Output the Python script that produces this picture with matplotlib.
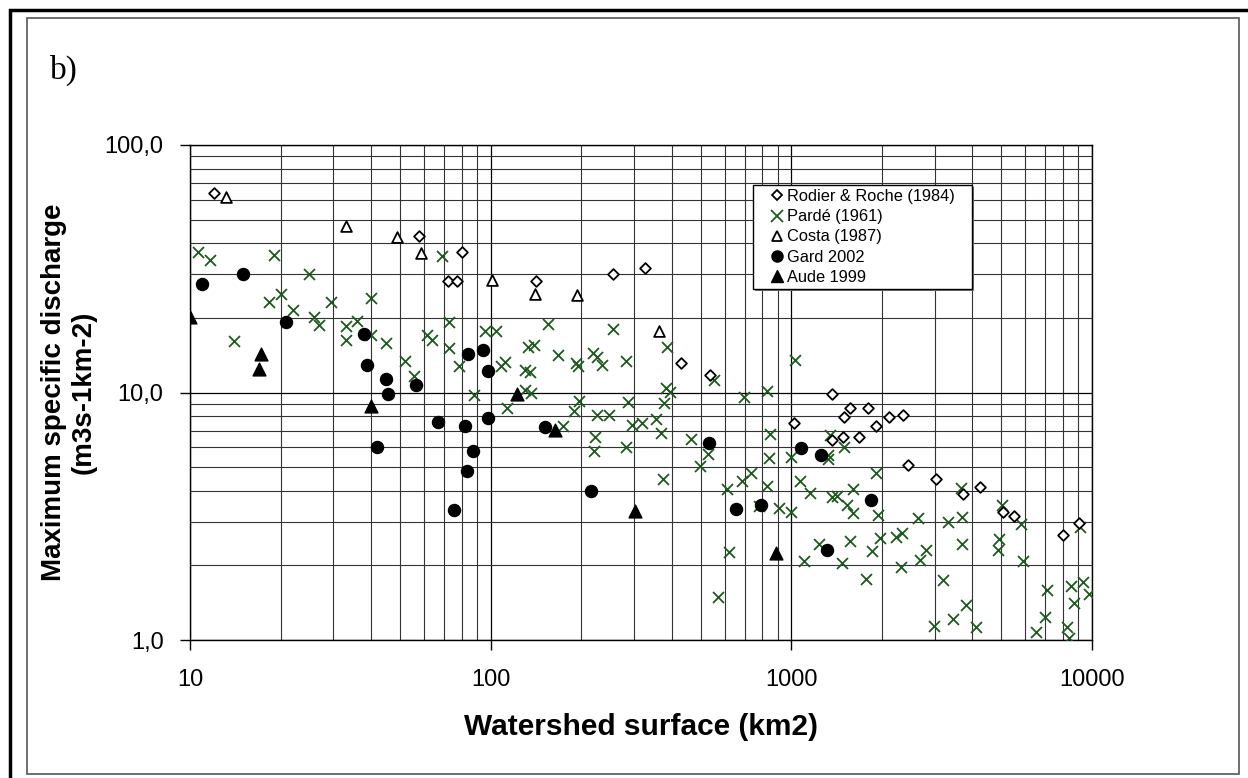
import matplotlib
matplotlib.use("Agg")
import matplotlib.pyplot as plt
from matplotlib.patches import Rectangle
from matplotlib.lines import Line2D
from matplotlib.ticker import FixedLocator, FuncFormatter, NullFormatter

plt.rcParams['font.family'] = ['Liberation Sans', 'DejaVu Sans']

# Rodier & Roche (1984)
rodier_x = [12.0, 57.8, 80.4, 72.2, 77.3, 142, 255, 325, 428, 538,
            1020, 1368, 1567, 1803, 1500, 1906, 2111, 2355, 1361, 1488,
            1682, 2449, 3020, 3730, 4236, 5068, 5495, 8017, 9066]
rodier_y = [64.0, 42.8, 37.0, 28.2, 28.2, 28.2, 30.2, 31.7, 13.2, 11.8,
            7.55, 9.86, 8.68, 8.68, 7.94, 7.35, 7.94, 8.11, 6.43, 6.59,
            6.63, 5.09, 4.47, 3.88, 4.14, 3.30, 3.17, 2.66, 2.98]

# Pardé (1961)
parde_x = [10.65, 11.65, 19.0, 24.9, 14.0, 18.3, 20.0, 22.0, 29.4, 25.8,
           26.8, 32.9, 32.9, 35.9, 40.0, 40.0, 44.8, 51.7, 55.6, 61.5,
           63.9, 68.7, 72.6, 72.6, 78.3, 96, 104, 108, 112, 87.8,
           155.6, 255.5, 385.5, 133.6, 139.8, 167, 129.6, 135.3, 191.6, 195.6,
           219.3, 225, 233.7, 282.7, 381.7, 393.6, 554.5, 1030, 129.6, 136,
           113, 196.6, 189.7, 225, 247.2, 174.5, 286.4, 377, 355.5, 295.8,
           318.7, 697, 833, 850, 222.2, 220.5, 281.3, 369, 374, 464,
           530, 497, 611, 683, 737, 843, 833, 781, 910, 1000,
           1000, 1070, 619, 569, 1100, 1343, 1327, 1327, 1500, 1911,
           1153, 3655, 1599, 1361, 1414, 1528, 1606, 1946, 2642, 3311,
           3684, 5003, 5787, 9120, 1237, 1573, 1970, 2228, 2328, 1849,
           2804, 2678, 3703, 4915, 4876, 5904, 1469, 2310, 1778, 3201,
           3808, 3439, 2987, 4102, 7063, 6972, 6508, 8511, 9348, 9788,
           8710, 8271, 8397]
parde_y = [36.9, 34.4, 36.1, 30.2, 16.2, 23.3, 25.1, 21.5, 23.2, 20.2,
           18.7, 18.5, 16.3, 19.5, 24.2, 17.0, 15.9, 13.4, 11.7, 17.1,
           16.3, 35.5, 19.3, 15.1, 12.75, 17.7, 17.7, 12.8, 13.3, 9.8,
           19.0, 18.1, 15.3, 15.3, 15.6, 14.2, 12.35, 12.05, 13.1, 12.8,
           14.5, 13.9, 12.9, 13.4, 10.4, 10.07, 11.2, 13.5, 10.2, 9.93,
           8.66, 9.27, 8.45, 8.14, 8.14, 7.35, 9.13, 9.05, 7.82, 7.42,
           7.54, 9.62, 10.1, 6.8, 6.6, 5.78, 6.02, 6.87, 4.49, 6.46,
           5.65, 5.03, 4.06, 4.38, 4.73, 5.43, 4.18, 3.48, 3.4, 3.3,
           5.5, 4.4, 2.26, 1.49, 2.09, 6.73, 5.59, 5.37, 6.0, 4.75,
           3.92, 4.10, 4.06, 3.79, 3.81, 3.51, 3.25, 3.2, 3.10, 3.01,
           3.13, 3.51, 2.93, 2.87, 2.44, 2.52, 2.59, 2.60, 2.71, 2.28,
           2.30, 2.10, 2.44, 2.55, 2.30, 2.08, 2.04, 1.97, 1.76, 1.75,
           1.39, 1.22, 1.14, 1.13, 1.59, 1.24, 1.08, 1.65, 1.72, 1.53,
           1.41, 1.13, 1.02]

# Costa (1987)
costa_x = [13.2, 32.9, 48.7, 58.7, 101, 140, 193, 363]
costa_y = [61.4, 46.9, 42.5, 36.6, 28.6, 24.9, 24.7, 17.7]

# Gard 2002
gard_x = [11.0, 15.0, 20.9, 37.8, 38.8, 44.8, 45.7, 56.6, 66.6, 82.4,
          84.1, 94.1, 97.9, 97.9, 41.8, 87.2, 83.3, 75.4, 152, 534,
          216, 654, 791, 1080, 1252, 1847, 1310]
gard_y = [27.5, 30.2, 19.3, 17.3, 12.9, 11.3, 9.9, 10.7, 7.59, 7.31,
          14.3, 14.9, 12.2, 7.87, 6.04, 5.78, 4.84, 3.34, 7.25, 6.26,
          4.01, 3.37, 3.52, 5.98, 5.59, 3.68, 2.30]

# Aude 1999
aude_x = [10.0, 17.2, 17.0, 40.0, 122, 164, 301, 887]
aude_y = [20.1, 14.3, 12.5, 8.8, 9.86, 7.07, 3.31, 2.24]

labels = ['Rodier & Roche (1984)', 'Pardé (1961)', 'Costa (1987)', 'Gard 2002', 'Aude 1999']
green = '#1d5a1d'

W, H = 1248, 778
fig = plt.figure(figsize=(W / 100, H / 100), dpi=100)
ax = fig.add_axes([190 / W, 1 - 640 / H, (1092 - 190) / W, (640 - 145) / H])

ax.set_xscale('log')
ax.set_yscale('log')
ax.set_xlim(10, 10000)
ax.set_ylim(1, 100)

ax.grid(True, which='major', color='black', lw=0.9)
ax.grid(True, which='minor', color='#333333', lw=0.8)

ax.scatter(parde_x, parde_y, marker='x', s=62, c=green, linewidths=1.3, zorder=3)
ax.scatter(rodier_x, rodier_y, marker='D', s=30, facecolors='white', edgecolors='black', linewidths=1.3, zorder=4)
ax.scatter(costa_x, costa_y, marker='^', s=60, facecolors='white', edgecolors='black', linewidths=1.3, zorder=4)
ax.scatter(gard_x, gard_y, marker='o', s=75, c='black', zorder=4)
ax.scatter(aude_x, aude_y, marker='^', s=85, c='black', zorder=4)

ax.xaxis.set_major_locator(FixedLocator([10, 100, 1000, 10000]))
ax.yaxis.set_major_locator(FixedLocator([1, 10, 100]))
ax.xaxis.set_major_formatter(FuncFormatter(lambda v, p: '%d' % round(v)))
ax.yaxis.set_major_formatter(FuncFormatter(lambda v, p: ('%.1f' % v).replace('.', ',')))
ax.xaxis.set_minor_formatter(NullFormatter())
ax.yaxis.set_minor_formatter(NullFormatter())
ax.tick_params(which='minor', length=0)
ax.tick_params(which='major', length=7, width=1, direction='out', labelsize=17, pad=12)
ax.tick_params(axis='x', pad=14)
for sp in ax.spines.values():
    sp.set_linewidth(1.0)

ax.set_xlabel('Watershed surface (km2)', fontsize=21.5, fontweight='bold', labelpad=16)
ax.set_ylabel('Maximum specific discharge\n(m3s-1km-2)', fontsize=20, fontweight='bold',
              labelpad=6, linespacing=1.15)

# legend box drawn by hand so its padding matches
fig.add_artist(Rectangle((755 / W, 1 - 291 / H), (974 - 755) / W, (291 - 187) / H,
                         transform=fig.transFigure, fc='#777777', ec='none', zorder=5))
fig.add_artist(Rectangle((753 / W, 1 - 289 / H), (972 - 753) / W, (289 - 185) / H,
                         transform=fig.transFigure, fc='white', ec='black', lw=1.0, zorder=6))
handles = [
    Line2D([], [], ls='none', marker='D', ms=5, mfc='white', mec='black', mew=1.3),
    Line2D([], [], ls='none', marker='x', ms=8, mec=green, mew=1.3),
    Line2D([], [], ls='none', marker='^', ms=7, mfc='white', mec='black', mew=1.3),
    Line2D([], [], ls='none', marker='o', ms=8, mfc='black', mec='black'),
    Line2D([], [], ls='none', marker='^', ms=8, mfc='black', mec='black'),
]
leg = fig.legend(handles, labels, loc='upper left', bbox_to_anchor=(771 / W, 1 - 189 / H),
                 fontsize=11.8, frameon=False, handlelength=0.7, handletextpad=0.25,
                 labelspacing=0.32, borderpad=0, borderaxespad=0)
leg.set_zorder(7)

fig.text(50 / W, 1 - 70 / H, 'b)', fontsize=24, family=['Liberation Serif', 'DejaVu Serif'],
         va='center', ha='left')

# borders round the picture
fig.add_artist(Rectangle((10 / W, -0.01), 1.0, 1 - 10 / H + 0.01, transform=fig.transFigure,
                         fill=False, ec='black', lw=2.5))
fig.add_artist(Rectangle((27 / W, 1 - 774 / H), (1239 - 27) / W, (774 - 18) / H,
                         transform=fig.transFigure, fill=False, ec='#555555', lw=1.2))

fig.savefig('out.png', dpi=100)
